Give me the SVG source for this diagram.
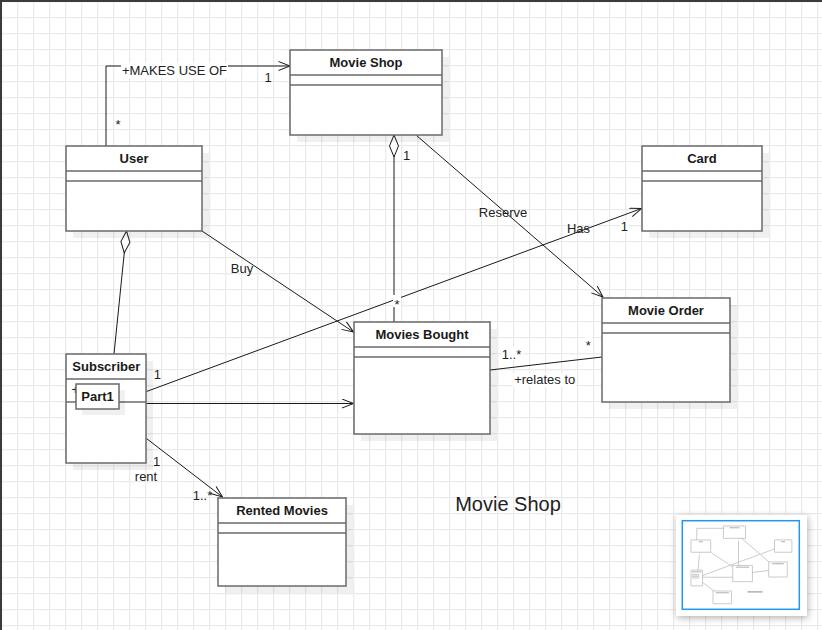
<svg xmlns="http://www.w3.org/2000/svg" xmlns:xlink="http://www.w3.org/1999/xlink" width="822" height="630" viewBox="0 0 822 630">
<style>
.box{fill:#fff;stroke:#6a6a6a;stroke-width:1.5}
.sep{stroke:#6a6a6a;stroke-width:1.5}
.shadow{fill:#000;opacity:.06}
.title{font-family:"Liberation Sans",Arial,sans-serif;font-size:13px;font-weight:bold;fill:#1a1a1a;text-anchor:middle}
.lbl{font-family:"Liberation Sans",Arial,sans-serif;font-size:13px;fill:#222;text-anchor:middle}
.edge{fill:none;stroke:#1a1a1a;stroke-width:1;vector-effect:non-scaling-stroke}
.bg{fill:#fff}
.mini{fill:#fff;stroke:#999;stroke-width:1;vector-effect:non-scaling-stroke}
.blob{fill:#777}
</style>
<defs>
<pattern id="grid" x="17" y="17" width="16" height="16" patternUnits="userSpaceOnUse">
<rect width="16" height="1.3" fill="#ebebeb"/>
<rect width="1.3" height="16" fill="#ebebeb"/>
</pattern>
<marker id="open" viewBox="-1 0 13.5 10" refX="11.5" refY="5" markerWidth="13.5" markerHeight="10" markerUnits="userSpaceOnUse" orient="auto">
<path d="M0,0.5 L11.5,5 L0,9.5" fill="none" stroke="#1a1a1a" stroke-width="1"/>
</marker>
<marker id="diamond" viewBox="-1 -1 24 11" refX="0" refY="4.5" markerWidth="24" markerHeight="11" markerUnits="userSpaceOnUse" orient="auto">
<path d="M0,4.5 L11,0 L22,4.5 L11,9 Z" fill="#fff" stroke="#1a1a1a" stroke-width="1"/>
</marker>
<filter id="panelShadow" x="-20%" y="-20%" width="140%" height="140%">
<feDropShadow dx="1" dy="2" stdDeviation="3.5" flood-color="#000" flood-opacity="0.3"/>
</filter>
</defs>

<rect width="822" height="630" fill="#fff"/>
<rect width="822" height="630" fill="url(#grid)"/>
<rect x="0" y="0" width="822" height="2" fill="#3a3d40"/>
<rect x="0" y="0" width="2" height="630" fill="#3a3d40"/>

<g id="connectors">
<g id="edge-paths">
<path class="edge" d="M106,146 V66 H290" marker-end="url(#open)"/>
<path class="edge" d="M394,135 V322" marker-start="url(#diamond)"/>
<path class="edge" d="M126.5,231 L114,354" marker-start="url(#diamond)"/>
<path class="edge" d="M202,231 L353.5,332" marker-end="url(#open)"/>
<path class="edge" d="M416.5,135.5 L603,297" marker-end="url(#open)"/>
<path class="edge" d="M146.5,391.5 L641.5,208.5" marker-end="url(#open)"/>
<path class="edge" d="M146.5,403.5 H353.5" marker-end="url(#open)"/>
<path class="edge" d="M146.5,438.5 L222.5,497" marker-end="url(#open)"/>
<path class="edge" d="M490,370 L602,357"/>
</g>
<g id="edge-labels">
<rect class="bg" x="121" y="63" width="107" height="15"/>
<text class="lbl" x="174.5" y="75">+MAKES USE OF</text>
<text class="lbl" x="268" y="82">1</text>
<rect class="bg" x="115" y="116" width="7" height="13"/>
<text class="lbl" x="118" y="128.5">*</text>
<text class="lbl" x="406.7" y="159.5">1</text>
<rect class="bg" x="393" y="295" width="8" height="12"/>
<text class="lbl" x="397" y="309">*</text>
<text class="lbl" x="242" y="272.8">Buy</text>
<text class="lbl" x="503" y="217">Reserve</text>
<text class="lbl" x="578.5" y="233">Has</text>
<rect class="bg" x="620" y="221" width="9" height="11"/>
<text class="lbl" x="624.3" y="230.7">1</text>
<text class="lbl" x="157.3" y="379.3">1</text>
<text class="lbl" x="156.5" y="466">1</text>
<text class="lbl" x="146" y="480.7">rent</text>
<text class="lbl" x="202.5" y="500">1..*</text>
<rect class="bg" x="501" y="347" width="22" height="13"/>
<text class="lbl" x="511.5" y="359">1..*</text>
<rect class="bg" x="585" y="337" width="7" height="11"/>
<text class="lbl" x="588.3" y="350">*</text>
<rect class="bg" x="513" y="373" width="63" height="14"/>
<text class="lbl" x="544.7" y="384">+relates to</text>
</g>
</g>

<g id="movie-shop">
<rect class="shadow" x="297" y="57" width="152" height="85"/>
<rect class="box" x="290" y="50" width="152" height="85"/>
<line class="sep" x1="290" y1="75" x2="442" y2="75"/>
<line class="sep" x1="290" y1="85" x2="442" y2="85"/>
<text class="title" x="366" y="67.2">Movie Shop</text>
</g>

<g id="user">
<rect class="shadow" x="73" y="153" width="136" height="85"/>
<rect class="box" x="66" y="146" width="136" height="85"/>
<line class="sep" x1="66" y1="171" x2="202" y2="171"/>
<line class="sep" x1="66" y1="181" x2="202" y2="181"/>
<text class="title" x="134" y="163.2">User</text>
</g>

<g id="card">
<rect class="shadow" x="649" y="153" width="120" height="85"/>
<rect class="box" x="642" y="146" width="120" height="85"/>
<line class="sep" x1="642" y1="171" x2="762" y2="171"/>
<line class="sep" x1="642" y1="181" x2="762" y2="181"/>
<text class="title" x="702" y="163.2">Card</text>
</g>

<g id="movie-order">
<rect class="shadow" x="609" y="305" width="128" height="104"/>
<rect class="box" x="602" y="298" width="128" height="104"/>
<line class="sep" x1="602" y1="323" x2="730" y2="323"/>
<line class="sep" x1="602" y1="333" x2="730" y2="333"/>
<text class="title" x="666" y="315.2">Movie Order</text>
</g>

<g id="movies-bought">
<rect class="shadow" x="361" y="329" width="136" height="112"/>
<rect class="box" x="354" y="322" width="136" height="112"/>
<line class="sep" x1="354" y1="347" x2="490" y2="347"/>
<line class="sep" x1="354" y1="357" x2="490" y2="357"/>
<text class="title" x="422" y="339.2">Movies Bought</text>
</g>

<g id="subscriber">
<rect class="shadow" x="73" y="361" width="80" height="109"/>
<rect class="box" x="66" y="354" width="80" height="109"/>
<line class="sep" x1="66" y1="379" x2="146" y2="379"/>
<line class="sep" x1="66" y1="402" x2="146" y2="402"/>
<text class="title" x="106.3" y="371.2">Subscriber</text>
<text class="lbl" x="71.5" y="394" style="text-anchor:start">+</text>
</g>

<g id="part1">
<rect class="shadow" x="82" y="390" width="43" height="25"/>
<rect class="box" x="76" y="384" width="43" height="25"/>
<text class="title" x="97.5" y="401.2">Part1</text>
</g>

<g id="rented-movies">
<rect class="shadow" x="225" y="505" width="128" height="88"/>
<rect class="box" x="218" y="498" width="128" height="88"/>
<line class="sep" x1="218" y1="523" x2="346" y2="523"/>
<line class="sep" x1="218" y1="533" x2="346" y2="533"/>
<text class="title" x="282" y="515.2">Rented Movies</text>
</g>

<text class="lbl" x="508" y="511" style="font-size:20px">Movie Shop</text>

<g id="minimap">
<rect x="676" y="515" width="131" height="101" fill="#fff" filter="url(#panelShadow)"/>
<g transform="translate(681.4,518.75) scale(0.145)">
<use href="#edge-paths" xlink:href="#edge-paths" opacity="0.22"/>
<g opacity="0.5">
<rect class="mini" x="290" y="50" width="152" height="85"/>
<rect class="mini" x="66" y="146" width="136" height="85"/>
<rect class="mini" x="642" y="146" width="120" height="85"/>
<rect class="mini" x="602" y="298" width="128" height="104"/>
<rect class="mini" x="354" y="322" width="136" height="112"/>
<rect class="mini" x="66" y="354" width="80" height="109"/>
<rect class="mini" x="76" y="384" width="43" height="25"/>
<rect class="mini" x="218" y="498" width="128" height="88"/>
<rect class="blob" x="331" y="58" width="70" height="8"/>
<rect class="blob" x="120" y="154" width="28" height="8"/>
<rect class="blob" x="688" y="154" width="28" height="8"/>
<rect class="blob" x="626" y="306" width="80" height="8"/>
<rect class="blob" x="376" y="330" width="92" height="8"/>
<rect class="blob" x="73" y="362" width="66" height="8"/>
<rect class="blob" x="82" y="392" width="31" height="8"/>
<rect class="blob" x="237" y="506" width="90" height="8"/>
<rect class="blob" x="456" y="498" width="104" height="12"/>
</g>
</g>
<rect x="682.3" y="520.7" width="117" height="88.6" fill="none" stroke="#2196f3" stroke-width="1.5"/>
</g>
</svg>
